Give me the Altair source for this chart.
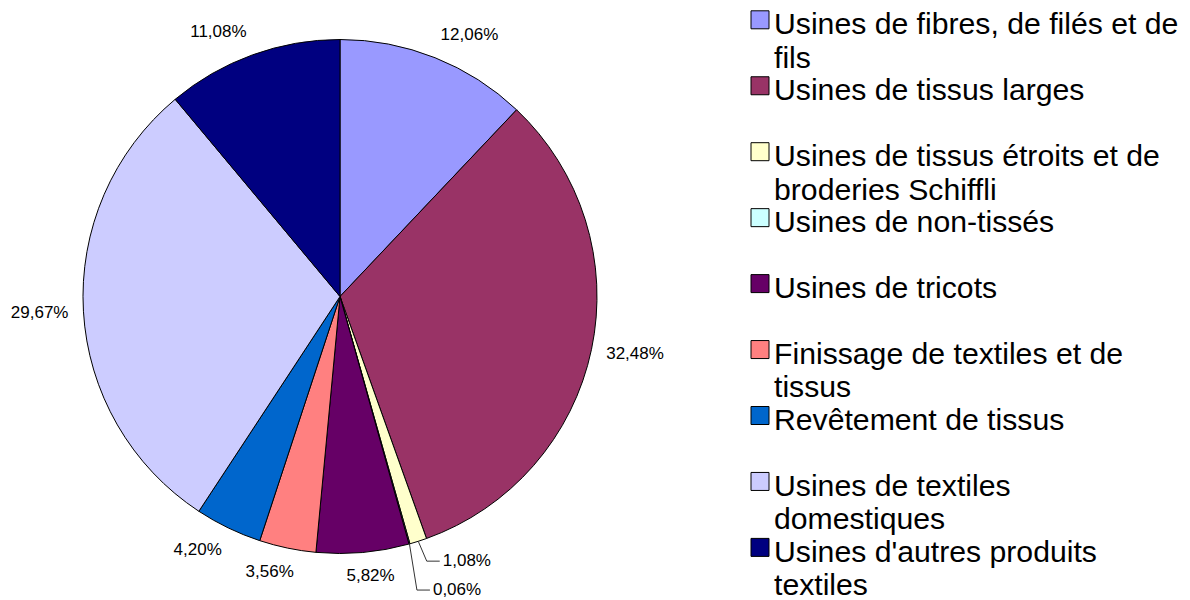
import altair as alt
import pandas as pd

# ---- data -------------------------------------------------------------
categories = [
    "Usines de fibres, de filés et de fils",
    "Usines de tissus larges",
    "Usines de tissus étroits et de broderies Schiffli",
    "Usines de non-tissés",
    "Usines de tricots",
    "Finissage de textiles et de tissus",
    "Revêtement de tissus",
    "Usines de textiles domestiques",
    "Usines d'autres produits textiles",
]
shares = [12.06, 32.48, 1.08, 0.06, 5.82, 3.56, 4.20, 29.67, 11.08]
legend_text = [
    "Usines de fibres, de filés et de\nfils",
    "Usines de tissus larges",
    "Usines de tissus étroits et de\nbroderies Schiffli",
    "Usines de non-tissés",
    "Usines de tricots",
    "Finissage de textiles et de\ntissus",
    "Revêtement de tissus",
    "Usines de textiles\ndomestiques",
    "Usines d'autres produits\ntextiles",
]
colors = ["#9999FF", "#993366", "#FFFFCC", "#CCFFFF", "#660066",
          "#FF8080", "#0066CC", "#CCCCFF", "#000080"]

# ---- layout (not data) ------------------------------------------------
callout_offsets = {2: (22, -3), 3: (24, 23)}   # small slices with leader lines
CX, CY = 332, 288.5
R_PIE = 257
R_LAB = 272
FS = 17
H = 18
FONT = "Liberation Sans"

df = pd.DataFrame({
    "idx": list(range(len(categories))),
    "cat": categories,
    "value": shares,
    "label": [f"{v:.2f}".replace(".", ",") + "%" for v in shares],
    "legend": legend_text,
    "offx": [callout_offsets.get(i, (0, 0))[0] for i in range(len(categories))],
    "offy": [callout_offsets.get(i, (0, 0))[1] for i in range(len(categories))],
    "callout": [1 if i in callout_offsets else 0 for i in range(len(categories))],
})

base = alt.Chart(df)
color_enc = alt.Color("cat:N", scale=alt.Scale(domain=categories, range=colors), legend=None)

pie = base.mark_arc(outerRadius=R_PIE, stroke="black", strokeWidth=1).encode(
    theta=alt.Theta("value:Q", stack=True),
    order=alt.Order("idx:Q"),
    color=color_enc,
    x=alt.value(CX),
    y=alt.value(CY),
)

geo = (
    base.transform_joinaggregate(total="sum(value)")
    .transform_window(cum="sum(value)", sort=[alt.SortField("idx")], frame=[None, 0])
    .transform_calculate(th="2*PI*(datum.cum - datum.value/2)/datum.total")
    .transform_calculate(s="sin(datum.th)")
    .transform_calculate(c="cos(datum.th)")
    .transform_calculate(w=f"((length(datum.label)-2)*0.556 + 1.167)*{FS}")
    .transform_calculate(lx=f"{CX} + {R_LAB}*datum.s + clamp(3*datum.s, -1, 1)*datum.w/2 + datum.offx")
    .transform_calculate(ly=f"{CY} - {R_LAB}*datum.c - clamp(datum.c, -1, 1)*{H}/2 + datum.offy")
    .transform_calculate(ex=f"{CX} + {R_PIE}*datum.s")
    .transform_calculate(ey=f"{CY} - {R_PIE}*datum.c")
    .transform_calculate(llx="datum.lx - datum.w/2 - 16")
    .transform_calculate(lex="datum.lx - datum.w/2 - 3")
)

labels = geo.mark_text(fontSize=FS, font=FONT, align="center", baseline="middle", color="black").encode(
    x=alt.X("lx:Q", scale=None, axis=None),
    y=alt.Y("ly:Q", scale=None, axis=None),
    text="label:N",
)

lead1 = geo.transform_filter("datum.callout == 1").mark_rule(color="#333333", strokeWidth=1).encode(
    x=alt.X("ex:Q", scale=None, axis=None),
    y=alt.Y("ey:Q", scale=None, axis=None),
    x2="llx:Q",
    y2="ly:Q",
)
lead2 = geo.transform_filter("datum.callout == 1").mark_rule(color="#333333", strokeWidth=1).encode(
    x=alt.X("llx:Q", scale=None, axis=None),
    y=alt.Y("ly:Q", scale=None, axis=None),
    x2="lex:Q",
    y2="ly:Q",
)

markers = base.mark_square(size=324, stroke="black", strokeWidth=1, opacity=1, filled=True).encode(
    x=alt.value(752),
    y=alt.Y("idx:Q", scale=alt.Scale(domain=[0, 8], range=[11.8, 539.4], zero=False, nice=False), axis=None),
    color=color_enc,
)

legtext = base.mark_text(align="left", baseline="alphabetic", fontSize=30.2, lineHeight=33.5,
                         lineBreak="\n", font=FONT, color="black").encode(
    x=alt.value(766),
    y=alt.Y("idx:Q", scale=alt.Scale(domain=[0, 8], range=[26.1, 553.7], zero=False, nice=False), axis=None),
    text="legend:N",
)

chart = (
    alt.layer(pie, lead1, lead2, labels, markers, legtext)
    .resolve_scale(x="independent", y="independent")
    .properties(width=1174, height=592, padding=0, autosize=alt.AutoSizeParams(type="none"))
    .configure_view(stroke=None)
)

chart.save("out.html", embed_options={"renderer": "svg", "actions": False})
